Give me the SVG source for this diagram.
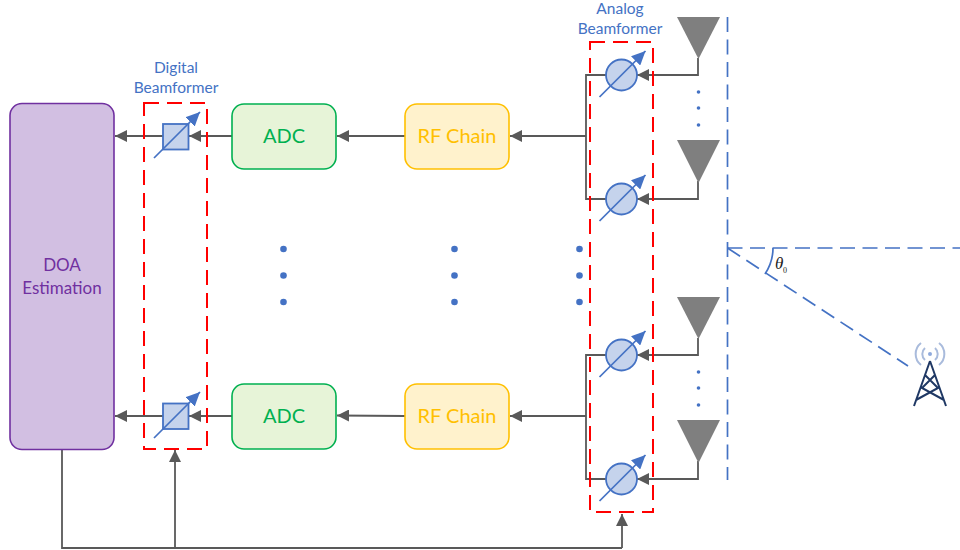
<svg xmlns="http://www.w3.org/2000/svg" width="960" height="550" viewBox="0 0 960 550">
<defs>
<marker id="ah" markerUnits="userSpaceOnUse" markerWidth="13" markerHeight="12" refX="12" refY="6" orient="auto"><path d="M0,0L12,6L0,12Z" fill="#595959"/></marker>
<marker id="bh" markerUnits="userSpaceOnUse" markerWidth="15" markerHeight="13" refX="14" refY="6.500" orient="auto"><path d="M0,0L14,6.500L0,13Z" fill="#4472c4"/></marker>
<g id="tune"><line x1="-22" y1="22" x2="24" y2="-24" class="b" marker-end="url(#bh)"/></g>
</defs>
<style>
text{font-family:Lato,"Open Sans","Liberation Sans",sans-serif}
.c{fill:none;stroke:#595959;stroke-width:1.8}
.a{marker-end:url(#ah)}
.b{fill:none;stroke:#4472c4;stroke-width:1.7}
.d{fill:none;stroke:#4472c4;stroke-width:1.7;stroke-dasharray:15 7.500}
.r{fill:none;stroke:#ff0000;stroke-width:2;stroke-dasharray:15 8}
.ps{fill:#c5d3ec;stroke:#4472c4;stroke-width:1.8}
.ant{fill:#7f7f7f}
.dot{fill:#4472c4}
.lb{fill:#4472c4;font-size:15.500px;text-anchor:middle}
.adc{fill:#e7f4d8;stroke:#00b050;stroke-width:1.6}
.rf{fill:#fff2cc;stroke:#ffc000;stroke-width:1.6}
.t{font-size:20px;text-anchor:middle}
.tw{stroke:#1f3864;stroke-width:2;fill:none}
</style>
<g id="connectors">
<path class="c a" d="M232,136H189"/>
<path class="c a" d="M163,136H115"/>
<path class="c a" d="M232,416H189"/>
<path class="c a" d="M163,416H115"/>
<path class="c a" d="M405,136H337"/>
<path class="c a" d="M405,416L337,415.500"/>
<path class="c a" d="M586,136H510"/>
<path class="c a" d="M586,416H510"/>
<path class="c" d="M606,75H586V199H606M606,355H586V479H606"/>
<path class="c a" d="M698,58V75H637"/>
<path class="c a" d="M698,181V199H637"/>
<path class="c a" d="M698,338V355H637"/>
<path class="c a" d="M698,461V479H637"/>
<path class="c" d="M62,449V548H622"/>
<path class="c a" d="M175,548V450"/>
<path class="c a" d="M622,548V514"/>
<path class="d" d="M727.500,17V480"/>
<path class="d" d="M727.500,248H960"/>
<path class="d" d="M727.500,248L908,366"/>
<path class="b" d="M773,248Q773,262 765,274"/>
</g>
<g id="doa"><rect x="10" y="103.500" width="104" height="346" rx="12" fill="#d2bfe2" stroke="#7030a0" stroke-width="1.6"/><text x="62" y="271" font-size="17" fill="#7030a0" text-anchor="middle">DOA</text><text x="62" y="294" font-size="17" fill="#7030a0" text-anchor="middle">Estimation</text></g>
<g id="digital-beamformer"><rect x="144" y="103" width="63" height="346" class="r"/><text x="176" y="73" class="lb">Digital</text><text x="176" y="93" class="lb">Beamformer</text></g>
<g id="analog-beamformer"><rect x="590" y="42" width="63" height="470" class="r"/><text x="620" y="14" class="lb">Analog</text><text x="620" y="34" class="lb">Beamformer</text></g>
<g id="ds1"><rect x="163" y="124" width="25.500" height="25.500" class="ps"/><use href="#tune" x="176" y="136"/></g>
<g id="ds2"><rect x="163" y="403.500" width="25.500" height="25.500" class="ps"/><use href="#tune" x="176" y="416"/></g>
<g id="adc1"><rect x="232" y="104" width="104" height="65" rx="12" class="adc"/><text x="284" y="143" class="t" fill="#00b050">ADC</text></g>
<g id="adc2"><rect x="232" y="384" width="104" height="65" rx="12" class="adc"/><text x="284" y="423" class="t" fill="#00b050">ADC</text></g>
<g id="rf1"><rect x="405" y="104" width="104" height="65" rx="12" class="rf"/><text x="457" y="143" class="t" fill="#ffc000">RF Chain</text></g>
<g id="rf2"><rect x="405" y="384" width="104" height="65" rx="12" class="rf"/><text x="457" y="423" class="t" fill="#ffc000">RF Chain</text></g>
<g id="ps1"><circle cx="621.500" cy="75" r="15.500" class="ps"/><use href="#tune" x="621.500" y="75"/></g>
<g id="ps2"><circle cx="621.500" cy="199" r="15.500" class="ps"/><use href="#tune" x="621.500" y="199"/></g>
<g id="ps3"><circle cx="621.500" cy="355" r="15.500" class="ps"/><use href="#tune" x="621.500" y="355"/></g>
<g id="ps4"><circle cx="621.500" cy="479" r="15.500" class="ps"/><use href="#tune" x="621.500" y="479"/></g>
<g id="ant1"><path class="ant" d="M677,17H720L698.500,59Z"/></g>
<g id="ant2"><path class="ant" d="M677,140H720L698.500,183Z"/></g>
<g id="ant3"><path class="ant" d="M677,297H720L698.500,339Z"/></g>
<g id="ant4"><path class="ant" d="M677,420H720L698.500,463Z"/></g>
<g id="dots">
<circle class="dot" cx="698.500" cy="92" r="1.800"/><circle class="dot" cx="698.500" cy="108" r="1.800"/><circle class="dot" cx="698.500" cy="125" r="1.800"/>
<circle class="dot" cx="698.500" cy="372" r="1.800"/><circle class="dot" cx="698.500" cy="388" r="1.800"/><circle class="dot" cx="698.500" cy="405" r="1.800"/>
<circle class="dot" cx="283.500" cy="249" r="3.300"/><circle class="dot" cx="283.500" cy="275.500" r="3.300"/><circle class="dot" cx="283.500" cy="302" r="3.300"/>
<circle class="dot" cx="454.500" cy="249" r="3.300"/><circle class="dot" cx="454.500" cy="275.500" r="3.300"/><circle class="dot" cx="454.500" cy="302" r="3.300"/>
<circle class="dot" cx="579.500" cy="249" r="3.300"/><circle class="dot" cx="579.500" cy="275.500" r="3.300"/><circle class="dot" cx="579.500" cy="302" r="3.300"/>
</g>
<g id="theta"><text x="775" y="269" font-style="italic" font-size="17" fill="#222" style="font-family:'Liberation Serif',serif">θ</text><text x="783" y="273" font-size="8" fill="#222" style="font-family:'Liberation Serif',serif">0</text></g>
<g id="tower">
<path class="tw" d="M930,361L914,406M930,361L946,406M925,375L938,388L916,400M935,375L922,388L944,400"/>
<circle cx="930" cy="354" r="2" fill="#8faadc"/>
<path d="M925,348A8,8 0 0 0 925,360M935,348A8,8 0 0 1 935,360M921,343A14,14 0 0 0 921,365M939,343A14,14 0 0 1 939,365" fill="none" stroke="#a9bbdc" stroke-width="2"/>
</g>
</svg>
